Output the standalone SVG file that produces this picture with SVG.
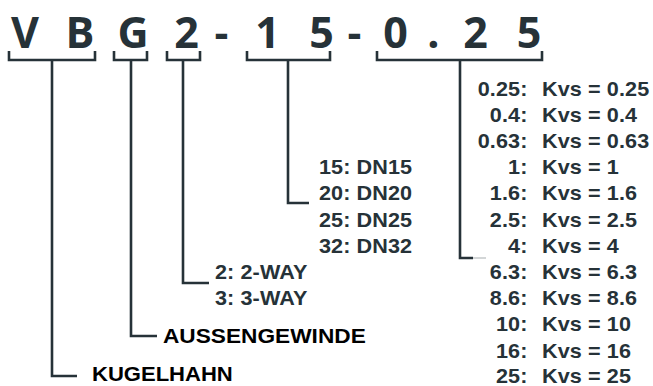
<svg xmlns="http://www.w3.org/2000/svg" width="653" height="386" viewBox="0 0 653 386">
  <style>
    .code { font-family: "Open Sans", "DejaVu Sans", sans-serif; font-weight: 700; font-size: 43px; fill: #263238; text-anchor: middle; }
    .lbl { font-family: "Liberation Sans", Arial, sans-serif; font-weight: 700; font-size: 20px; fill: #263238; letter-spacing: 0.1px; }
    .end { text-anchor: end; }
    .big { font-family: "Liberation Sans", Arial, sans-serif; font-weight: 700; font-size: 21px; fill: #000; }
    .wire { fill: none; stroke: #263238; stroke-width: 2.6; stroke-linejoin: miter; stroke-linecap: butt; }
    .fade { fill: none; stroke: #c4c9ca; stroke-width: 1.5; }
  </style>

  <!-- type code -->
  <g id="code">
    <text class="code" y="48" x="25 80 133 186.5 221.5 267.5 321.5 354.5 395.5 433.5 475.5 529">VBG2-15-0.25</text>
  </g>

  <!-- brackets and leader lines -->
  <g id="connectors">
    <path class="wire" d="M9,51 V60 H95 V51 M52,60 V376 H77"/>
    <path class="wire" d="M114,51 V60 H147 V51 M131,60 V336 H157"/>
    <path class="wire" d="M167,51 V60 H200 V51 M183,60 V283 H209"/>
    <path class="wire" d="M247,51 V60 H330 V51 M288,60 V203 H309"/>
    <path class="wire" d="M377,51 V60 H542 V51 M460,60 V258 H473"/>
    <path class="fade" d="M473,258 H486"/>
  </g>

  <!-- Kvs values -->
  <g id="kvs">
    <text class="lbl end" transform="translate(527.5 95.5) scale(1.08 1)">0.25:</text>
    <text class="lbl" transform="translate(542 95.5) scale(1.08 1)">Kvs = 0.25</text>
    <text class="lbl end" transform="translate(527.5 121.7) scale(1.08 1)">0.4:</text>
    <text class="lbl" transform="translate(542 121.7) scale(1.08 1)">Kvs = 0.4</text>
    <text class="lbl end" transform="translate(527.5 147.9) scale(1.08 1)">0.63:</text>
    <text class="lbl" transform="translate(542 147.9) scale(1.08 1)">Kvs = 0.63</text>
    <text class="lbl end" transform="translate(527.5 174.1) scale(1.08 1)">1:</text>
    <text class="lbl" transform="translate(542 174.1) scale(1.08 1)">Kvs = 1</text>
    <text class="lbl end" transform="translate(527.5 200.3) scale(1.08 1)">1.6:</text>
    <text class="lbl" transform="translate(542 200.3) scale(1.08 1)">Kvs = 1.6</text>
    <text class="lbl end" transform="translate(527.5 226.5) scale(1.08 1)">2.5:</text>
    <text class="lbl" transform="translate(542 226.5) scale(1.08 1)">Kvs = 2.5</text>
    <text class="lbl end" transform="translate(527.5 252.7) scale(1.08 1)">4:</text>
    <text class="lbl" transform="translate(542 252.7) scale(1.08 1)">Kvs = 4</text>
    <text class="lbl end" transform="translate(527.5 278.9) scale(1.08 1)">6.3:</text>
    <text class="lbl" transform="translate(542 278.9) scale(1.08 1)">Kvs = 6.3</text>
    <text class="lbl end" transform="translate(527.5 305.1) scale(1.08 1)">8.6:</text>
    <text class="lbl" transform="translate(542 305.1) scale(1.08 1)">Kvs = 8.6</text>
    <text class="lbl end" transform="translate(527.5 331.3) scale(1.08 1)">10:</text>
    <text class="lbl" transform="translate(542 331.3) scale(1.08 1)">Kvs = 10</text>
    <text class="lbl end" transform="translate(527.5 357.5) scale(1.08 1)">16:</text>
    <text class="lbl" transform="translate(542 357.5) scale(1.08 1)">Kvs = 16</text>
    <text class="lbl end" transform="translate(527.5 382.5) scale(1.08 1)">25:</text>
    <text class="lbl" transform="translate(542 382.5) scale(1.08 1)">Kvs = 25</text>
  </g>

  <!-- nominal diameters -->
  <g id="dn">
    <text class="lbl" transform="translate(319 174.1) scale(1.08 1)">15: DN15</text>
    <text class="lbl" transform="translate(319 200.3) scale(1.08 1)">20: DN20</text>
    <text class="lbl" transform="translate(319 226.5) scale(1.08 1)">25: DN25</text>
    <text class="lbl" transform="translate(319 252.7) scale(1.08 1)">32: DN32</text>
  </g>

  <!-- number of ways -->
  <g id="ways">
    <text class="lbl" transform="translate(215 278.9) scale(1.08 1)">2: 2-WAY</text>
    <text class="lbl" transform="translate(215 305.1) scale(1.08 1)">3: 3-WAY</text>
  </g>

  <g id="aussengewinde">
    <text class="big" transform="translate(163 343) scale(1.08 1)">AUSSENGEWINDE</text>
  </g>

  <g id="kugelhahn">
    <text class="big" transform="translate(92 381) scale(1.05 1)">KUGELHAHN</text>
  </g>
</svg>
